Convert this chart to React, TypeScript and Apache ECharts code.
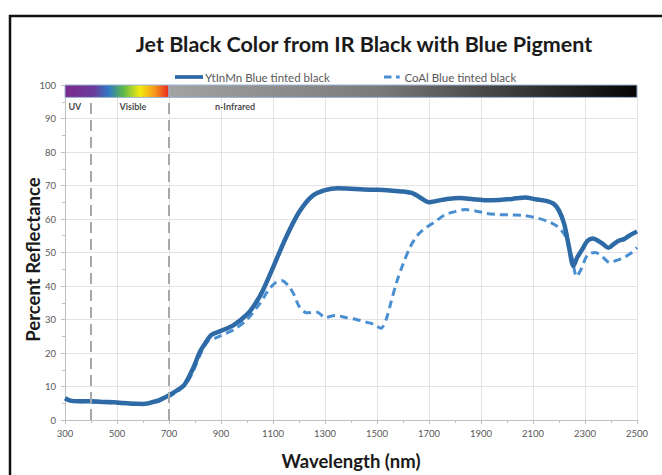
import React, { useEffect, useRef } from "react";
import * as echarts from "echarts";

const X_START = 300;
const X_END = 2500;

const seriesNames = ["YtInMn Blue tinted black", "CoAl Blue tinted black"];

const ytWavelengths = [300, 320, 350, 400, 450, 500, 550, 600, 650, 700, 730, 760, 790, 820, 840, 865, 900, 950, 1000, 1030, 1060, 1100, 1150, 1200, 1250, 1300, 1350, 1400, 1450, 1500, 1550, 1600, 1640, 1670, 1700, 1730, 1770, 1820, 1870, 1920, 1970, 2020, 2070, 2110, 2150, 2180, 2200, 2220, 2240, 2255, 2270, 2290, 2310, 2330, 2350, 2370, 2390, 2410, 2430, 2450, 2470, 2500];
const ytReflectance = [6.5, 5.8, 5.6, 5.6, 5.4, 5.2, 4.9, 4.8, 5.6, 7.4, 8.8, 10.6, 15.0, 20.5, 23.0, 25.5, 26.6, 28.4, 31.5, 34.5, 38.5, 45.5, 54.5, 62.0, 66.8, 68.6, 69.2, 69.0, 68.8, 68.7, 68.5, 68.2, 67.6, 66.2, 65.0, 65.4, 66.0, 66.3, 65.9, 65.6, 65.7, 66.0, 66.4, 65.9, 65.4, 64.5, 62.5, 58.5, 51.0, 46.0, 48.5, 51.0, 53.5, 54.2, 53.5, 52.5, 51.4, 52.5, 53.5, 54.0, 55.0, 56.3];

const coWavelengths = [300, 350, 400, 450, 500, 550, 600, 650, 700, 730, 760, 790, 820, 850, 880, 900, 950, 1000, 1050, 1080, 1110, 1135, 1160, 1180, 1200, 1230, 1270, 1300, 1340, 1380, 1420, 1460, 1490, 1515, 1535, 1555, 1575, 1600, 1630, 1660, 1690, 1720, 1760, 1800, 1840, 1880, 1920, 1970, 2020, 2070, 2120, 2160, 2190, 2210, 2230, 2250, 2268, 2285, 2310, 2340, 2370, 2395, 2420, 2450, 2480, 2500];
const coReflectance = [6.3, 5.5, 5.4, 5.2, 5.0, 4.7, 4.6, 5.3, 7.0, 8.4, 10.3, 14.0, 19.5, 23.5, 24.5, 25.2, 27.0, 30.0, 34.8, 38.5, 41.0, 41.6, 40.0, 37.5, 34.0, 32.0, 32.2, 30.6, 31.2, 30.6, 30.0, 29.2, 28.5, 27.4, 30.0, 35.5, 41.0, 46.5, 52.0, 55.5, 57.5, 59.0, 61.2, 62.2, 62.8, 62.4, 61.7, 61.3, 61.2, 61.0, 60.2, 59.2, 58.0, 56.5, 54.2, 48.5, 42.8, 45.0, 49.3, 50.0, 48.5, 47.0, 47.6, 48.5, 50.0, 51.5];

const regionLabels = ["UV", "Visible", "n-Infrared"];
const regionLabelWavelengths = [338, 561, 954];
const regionLabelLevel = 93.6;
const regionBoundaries = [400, 700];
const visibleEnd = 700;
const bandBottom = 96.3;

const toX = (w: number) => w - X_START;

export default function App() {
  const ref = useRef<HTMLDivElement>(null);
  useEffect(() => {
    if (!ref.current) return;
    const chart = echarts.init(ref.current, undefined, { renderer: "svg" });
    const font = "Lato, 'Noto Sans', sans-serif";
    const spectrum = new echarts.graphic.LinearGradient(0, 0, 1, 0, [
      { offset: 0, color: "#7a2a8c" },
      { offset: 0.28, color: "#6b3c9c" },
      { offset: 0.42, color: "#2f78c4" },
      { offset: 0.56, color: "#5cb848" },
      { offset: 0.72, color: "#f4ea10" },
      { offset: 0.86, color: "#f59a1e" },
      { offset: 1, color: "#e8261c" },
    ]);
    const grayRamp = new echarts.graphic.LinearGradient(0, 0, 1, 0, [
      { offset: 0, color: "#a2a2a2" },
      { offset: 0.45, color: "#7a7a7a" },
      { offset: 0.8, color: "#2e2e2e" },
      { offset: 1, color: "#050505" },
    ]);
    const legendText = { fontFamily: font, fontSize: 11.5, color: "#595959", padding: [0, 0, 0, -3] };
    chart.setOption({
      animation: false,
      title: {
        text: "Jet Black Color from IR Black with Blue Pigment",
        left: 359,
        top: 28,
        textAlign: "center",
        textStyle: { fontFamily: font, fontWeight: "bold", fontSize: 21.5, color: "#1a1a1a" },
      },
      legend: [
        {
          data: [{ name: seriesNames[0], icon: "path://M0,0H30V4H0Z", itemStyle: { color: "#2e6aa6" } }],
          left: 170,
          top: 66,
          itemWidth: 28,
          itemHeight: 4,
          textStyle: legendText,
        },
        {
          data: [{ name: seriesNames[1], icon: "path://M0,0H10V4H0Z M16,0H21V4H16Z", itemStyle: { color: "#4a8fd2" } }],
          left: 379,
          top: 66,
          itemWidth: 21,
          itemHeight: 3,
          textStyle: legendText,
        },
      ],
      graphic: [
        {
          type: "rect",
          shape: { x: 10, y: 16, width: 720, height: 520 },
          style: { fill: "none", stroke: "#111", lineWidth: 2.5 },
          silent: true,
        },
      ],
      grid: { left: 65, right: 25, top: 85, bottom: 47 },
      xAxis: {
        type: "value",
        min: 0,
        max: X_END - X_START,
        interval: 200,
        axisLine: { lineStyle: { color: "#bfbfbf" } },
        axisTick: { show: true, length: 4, lineStyle: { color: "#bfbfbf" } },
        minorTick: { show: true, splitNumber: 2, length: 3, lineStyle: { color: "#bfbfbf" } },
        splitLine: { show: true, lineStyle: { color: "#e3e3e3" } },
        axisLabel: {
          formatter: (v: number) => String(v + X_START),
          fontFamily: font,
          fontSize: 9.5,
          color: "#595959",
          margin: 8,
        },
        name: "Wavelength (nm)",
        nameLocation: "middle",
        nameGap: 31,
        nameMoveOverlap: false,
        nameTextStyle: { fontFamily: font, fontWeight: "bold", fontSize: 18.5, color: "#1a1a1a" },
      },
      yAxis: {
        type: "value",
        min: 0,
        max: 100,
        interval: 10,
        axisLine: { show: true, lineStyle: { color: "#bfbfbf" } },
        axisTick: { show: true, length: 4, lineStyle: { color: "#bfbfbf" } },
        minorTick: { show: true, splitNumber: 2, length: 3, lineStyle: { color: "#bfbfbf" } },
        splitLine: { show: true, lineStyle: { color: "#e3e3e3" } },
        axisLabel: { fontFamily: font, fontSize: 9.5, color: "#595959", margin: 9 },
        name: "Percent Reflectance",
        nameLocation: "middle",
        nameGap: 23,
        nameMoveOverlap: false,
        nameTextStyle: { fontFamily: font, fontWeight: "bold", fontSize: 18.5, color: "#1a1a1a", padding: [0, 0, 0, -14] },
      },
      series: [
        {
          name: "bands",
          type: "scatter",
          symbolSize: 1,
          itemStyle: { color: "rgba(0,0,0,0)" },
          data: regionLabels.map((t, i) => [toX(regionLabelWavelengths[i]), regionLabelLevel, t]),
          label: {
            show: true,
            position: "inside",
            formatter: (p: any) => p.data[2],
            fontFamily: font,
            fontWeight: "bold",
            fontSize: 9,
            color: "#111",
          },
          markArea: {
            silent: true,
            data: [
              [
                { coord: [toX(X_START), 100], itemStyle: { color: spectrum } },
                { coord: [toX(visibleEnd), bandBottom] },
              ],
              [
                { coord: [toX(visibleEnd), 100], itemStyle: { color: grayRamp } },
                { coord: [toX(X_END), bandBottom] },
              ],
            ],
            itemStyle: { borderColor: "#9bb5d2", borderWidth: 1 },
          },
          markLine: {
            silent: true,
            symbol: ["none", "none"],
            label: { show: false },
            lineStyle: { color: "#a8a8a8", width: 2, type: [11, 6] },
            data: regionBoundaries.map((b) => [
              { coord: [toX(b), 0] },
              { coord: [toX(b), bandBottom] },
            ]),
          },
        },
        {
          name: seriesNames[0],
          type: "line",
          symbol: "none",
          smooth: 0.3,
          data: ytWavelengths.map((w, i) => [toX(w), ytReflectance[i]]),
          lineStyle: { color: "#2e6aa6", width: 4.5 },
          itemStyle: { color: "#2e6aa6" },
          z: 4,
        },
        {
          name: seriesNames[1],
          type: "line",
          symbol: "none",
          smooth: 0.3,
          data: coWavelengths.map((w, i) => [toX(w), coReflectance[i]]),
          lineStyle: { color: "#4a8fd2", width: 3, type: [8, 5] },
          itemStyle: { color: "#4a8fd2" },
          z: 3,
        },
      ],
    });
    return () => chart.dispose();
  }, []);
  return (
    <div
      ref={ref}
      style={{ position: "absolute", left: 0, top: 0, width: 662, height: 475, background: "#fff" }}
    />
  );
}
